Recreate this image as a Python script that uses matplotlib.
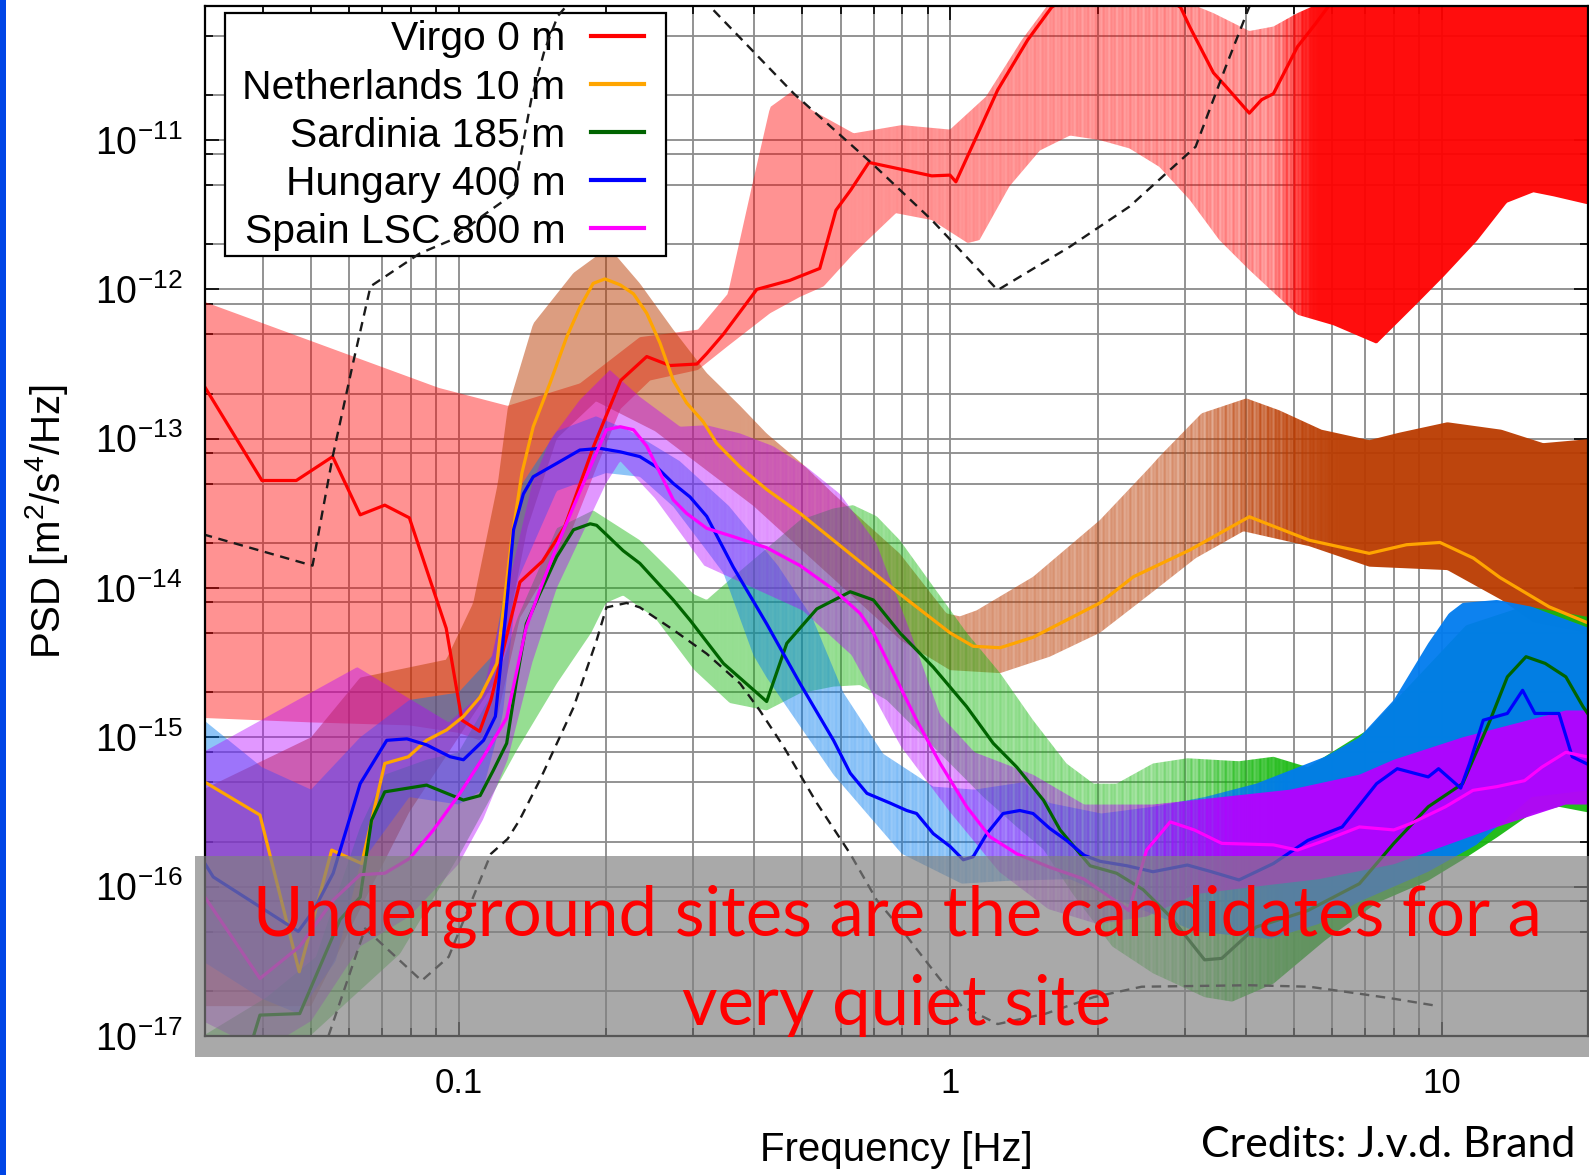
import numpy as np
import matplotlib
matplotlib.use("Agg")
import matplotlib.pyplot as plt
from matplotlib.path import Path
from matplotlib.image import BboxImage
from matplotlib.patches import Rectangle
from matplotlib import font_manager
from matplotlib.ticker import FixedLocator, FuncFormatter, NullFormatter

plt.rcParams['font.family'] = ['Liberation Sans', 'DejaVu Sans']
plt.rcParams['axes.unicode_minus'] = False
plt.rcParams['mathtext.fontset'] = 'custom'
plt.rcParams['mathtext.rm'] = 'Liberation Sans'
plt.rcParams['mathtext.it'] = 'Liberation Sans:italic'
plt.rcParams['mathtext.bf'] = 'Liberation Sans:bold'

# ---------------- data: (log10 frequency [Hz], log10 PSD [m^2/s^4/Hz]) ----------------
site_labels = ['Virgo 0 m', 'Netherlands 10 m', 'Sardinia 185 m', 'Hungary 400 m', 'Spain LSC 800 m']

virgo_median = [(-1.515,-12.66),(-1.40,-13.28),(-1.33,-13.28),(-1.256,-13.12),(-1.20,-13.51),(-1.15,-13.445),
    (-1.10,-13.53),(-1.025,-14.27),(-0.993,-14.885),(-0.957,-14.96),(-0.934,-14.75),(-0.875,-13.96),(-0.829,-13.82),
    (-0.784,-13.59),(-0.725,-13.05),(-0.670,-12.61),(-0.617,-12.45),(-0.570,-12.51),(-0.515,-12.50),(-0.495,-12.43),
    (-0.461,-12.30),(-0.393,-12.00),(-0.326,-11.94),(-0.265,-11.86),(-0.232,-11.47),(-0.202,-11.335),(-0.165,-11.15),
    (-0.122,-11.18),(-0.037,-11.24),(0.0,-11.235),(0.012,-11.28),(0.048,-11.02),(0.097,-10.665),(0.158,-10.33),
    (0.207,-10.11),(0.33,-9.85),(0.469,-10.11),(0.4875,-10.24),(0.536,-10.55),(0.561,-10.64),(0.609,-10.82),
    (0.634,-10.73),(0.658,-10.69),(0.707,-10.375),(0.744,-10.22),(0.780,-10.06),(1.0,-9.8),(1.31,-9.8)]
virgo_upper = [(-1.52,-12.08),(-1.04,-12.66),(-0.90,-12.78),(-0.753,-12.63),(-0.631,-12.32),(-0.513,-12.27),
    (-0.452,-12.03),(-0.403,-11.31),(-0.366,-10.78),(-0.324,-10.68),(-0.281,-10.80),(-0.196,-10.955),(-0.098,-10.90),
    (0.0,-10.93),(0.073,-10.71),(0.146,-10.33),(0.207,-10.06),(0.33,-9.8),(0.469,-10.06),(0.536,-10.15),(0.609,-10.27),
    (0.658,-10.24),(0.707,-10.15),(0.768,-10.06),(1.0,-9.8),(1.31,-9.8)]
virgo_lower = [(-1.52,-14.87),(-1.3,-14.9),(-1.1,-14.92),(-1.0,-14.97),(-0.957,-15.02),(-0.92,-14.85),(-0.875,-14.2),
    (-0.83,-13.95),(-0.78,-13.7),(-0.72,-13.2),(-0.67,-12.8),(-0.61,-12.61),(-0.513,-12.54),(-0.452,-12.38),
    (-0.366,-12.16),(-0.305,-12.05),(-0.257,-11.98),(-0.196,-11.76),(-0.110,-11.49),(-0.037,-11.536),(0.036,-11.69),
    (0.060,-11.67),(0.121,-11.31),(0.183,-11.07),(0.244,-10.97),(0.304,-11.0),(0.365,-11.056),(0.426,-11.18),
    (0.4875,-11.40),(0.548,-11.67),(0.609,-11.87),(0.707,-12.17),(0.780,-12.24),(0.868,-12.364),(0.95,-12.096),
    (1.004,-11.916),(1.072,-11.676),(1.133,-11.42),(1.187,-11.35),(1.228,-11.377),(1.31,-11.44)]

netherlands_median = [(-1.516,-15.30),(-1.404,-15.52),(-1.324,-16.57),(-1.258,-15.755),(-1.197,-15.845),
    (-1.15,-15.175),(-1.102,-15.13),(-1.065,-15.02),(-1.024,-14.95),(-0.99,-14.86),(-0.956,-14.73),(-0.922,-14.505),
    (-0.892,-13.68),(-0.871,-13.23),(-0.848,-12.92),(-0.814,-12.63),(-0.780,-12.32),(-0.753,-12.12),(-0.726,-11.96),
    (-0.702,-11.93),(-0.671,-11.97),(-0.644,-12.03),(-0.617,-12.16),(-0.590,-12.36),(-0.563,-12.61),(-0.536,-12.76),
    (-0.502,-12.887),(-0.475,-13.03),(-0.427,-13.19),(-0.373,-13.34),(-0.305,-13.50),(-0.2035,-13.77),(-0.102,-14.04),
    (0.0,-14.30),(0.047,-14.39),(0.102,-14.40),(0.169,-14.33),(0.237,-14.215),(0.305,-14.10),(0.373,-13.925),
    (0.4875,-13.746),(0.609,-13.523),(0.731,-13.68),(0.853,-13.768),(0.929,-13.71),(0.997,-13.695),(1.065,-13.80),
    (1.119,-13.93),(1.219,-14.126),(1.31,-14.25)]
netherlands_upper = [(-1.52,-15.35),(-1.3,-15.0),(-1.2,-14.6),(-1.025,-14.48),(-0.97,-14.1),(-0.92,-13.3),
    (-0.9,-12.8),(-0.848,-12.23),(-0.766,-11.89),(-0.712,-11.76),(-0.678,-11.78),(-0.631,-11.96),(-0.563,-12.27),
    (-0.495,-12.56),(-0.427,-12.78),(-0.373,-12.965),(-0.30,-13.17),(-0.237,-13.37),(-0.102,-13.77),(-0.007,-14.17),
    (0.020,-14.19),(0.054,-14.15),(0.169,-13.925),(0.305,-13.545),(0.407,-13.19),(0.426,-13.12),(0.512,-12.83),
    (0.603,-12.73),(0.670,-12.81),(0.756,-12.94),(0.853,-13.01),(0.914,-12.96),(1.012,-12.89),(1.122,-12.94),
    (1.207,-13.03),(1.31,-13.0)]
netherlands_lower = [(-1.52,-16.8),(-1.3,-16.8),(-1.1,-15.5),(-1.0,-15.0),(-0.92,-14.6),(-0.86,-13.6),(-0.8,-13.0),
    (-0.72,-12.75),(-0.6,-12.95),(-0.5,-13.2),(-0.4,-13.45),(-0.3,-13.75),(-0.2,-14.05),(-0.1,-14.35),(0.0,-14.55),
    (0.102,-14.57),(0.203,-14.46),(0.305,-14.30),(0.407,-14.04),(0.50,-13.8),(0.597,-13.62),(0.731,-13.72),
    (0.853,-13.857),(1.012,-13.88),(1.122,-14.08),(1.187,-14.23),(1.31,-14.31)]

sardinia_median = [(-1.52,-17.5),(-1.417,-17.0),(-1.404,-16.86),(-1.323,-16.85),(-1.241,-16.22),(-1.20,-16.07),
    (-1.177,-15.555),(-1.15,-15.365),(-1.065,-15.32),(-0.99,-15.42),(-0.956,-15.39),(-0.929,-15.22),(-0.902,-15.04),
    (-0.882,-14.62),(-0.862,-14.24),(-0.835,-14.04),(-0.80,-13.79),(-0.766,-13.61),(-0.732,-13.57),(-0.719,-13.58),
    (-0.665,-13.75),(-0.631,-13.835),(-0.563,-14.08),(-0.529,-14.215),(-0.461,-14.505),(-0.373,-14.76),(-0.332,-14.37),
    (-0.271,-14.14),(-0.203,-14.025),(-0.156,-14.08),(-0.102,-14.30),(-0.034,-14.53),(0.034,-14.795),(0.088,-15.04),
    (0.136,-15.20),(0.19,-15.42),(0.224,-15.62),(0.285,-15.86),(0.339,-15.91),(0.393,-16.02),(0.448,-16.20),
    (0.518,-16.49),(0.553,-16.48),(0.623,-16.27),(0.728,-16.16),(0.833,-15.98),(0.903,-15.71),(0.973,-15.465),
    (1.043,-15.31),(1.099,-14.885),(1.134,-14.595),(1.172,-14.46),(1.211,-14.505),(1.253,-14.595),(1.288,-14.795),
    (1.31,-14.9)]
sardinia_upper = [(-1.52,-17.0),(-1.39,-16.74),(-1.29,-16.47),(-1.2,-15.6),(-1.15,-15.25),(-1.065,-15.15),
    (-1.0,-15.1),(-0.93,-14.7),(-0.88,-14.2),(-0.8,-13.6),(-0.726,-13.48),(-0.631,-13.68),(-0.563,-13.90),
    (-0.522,-14.04),(-0.495,-14.08),(-0.441,-13.925),(-0.305,-13.545),(-0.237,-13.467),(-0.197,-13.445),
    (-0.149,-13.52),(-0.102,-13.68),(-0.034,-13.99),(0.034,-14.30),(0.102,-14.57),(0.169,-14.885),(0.237,-15.175),
    (0.292,-15.31),(0.339,-15.31),(0.413,-15.175),(0.483,-15.14),(0.588,-15.16),(0.658,-15.13),(0.728,-15.20),
    (0.85,-14.95),(0.95,-14.6),(1.05,-14.25),(1.17,-14.12),(1.31,-14.2)]
sardinia_lower = [(-1.52,-17.6),(-1.302,-17.0),(-1.119,-16.45),(-0.997,-15.78),(-0.882,-15.09),(-0.80,-14.64),
    (-0.73,-14.3),(-0.70,-14.1),(-0.665,-14.05),(-0.60,-14.2),(-0.52,-14.55),(-0.448,-14.77),(-0.373,-14.82),
    (-0.305,-14.705),(-0.237,-14.66),(-0.183,-14.65),(-0.129,-14.75),(-0.068,-14.95),(0.0,-15.175),(0.068,-15.40),
    (0.136,-15.60),(0.19,-15.75),(0.25,-16.05),(0.33,-16.4),(0.413,-16.58),(0.518,-16.74),(0.574,-16.77),
    (0.658,-16.65),(0.763,-16.36),(0.868,-16.11),(0.973,-15.96),(1.043,-15.82),(1.113,-15.67),(1.183,-15.51),
    (1.239,-15.465),(1.31,-15.51)]

hungary_median = [(-1.516,-15.845),(-1.499,-15.935),(-1.404,-16.135),(-1.326,-16.30),(-1.295,-16.16),
    (-1.255,-15.91),(-1.20,-15.31),(-1.146,-15.02),(-1.105,-15.01),(-1.065,-15.05),(-1.017,-15.13),(-0.99,-15.15),
    (-0.949,-15.02),(-0.925,-14.86),(-0.912,-14.44),(-0.905,-14.215),(-0.888,-13.61),(-0.868,-13.37),(-0.848,-13.255),
    (-0.80,-13.165),(-0.753,-13.076),(-0.712,-13.065),(-0.671,-13.088),(-0.631,-13.12),(-0.597,-13.19),(-0.563,-13.30),
    (-0.529,-13.39),(-0.495,-13.52),(-0.441,-13.86),(-0.373,-14.24),(-0.305,-14.64),(-0.237,-15.02),(-0.203,-15.24),
    (-0.169,-15.375),(-0.122,-15.44),(-0.088,-15.49),(-0.068,-15.51),(-0.034,-15.645),(0.0,-15.73),(0.027,-15.82),
    (0.047,-15.80),(0.075,-15.645),(0.108,-15.51),(0.142,-15.49),(0.169,-15.51),(0.203,-15.61),(0.237,-15.69),
    (0.273,-15.79),(0.305,-15.83),(0.36,-15.86),(0.413,-15.90),(0.483,-15.855),(0.532,-15.90),(0.588,-15.955),
    (0.658,-15.845),(0.728,-15.69),(0.798,-15.60),(0.868,-15.31),(0.910,-15.21),(0.973,-15.265),(0.994,-15.21),
    (1.039,-15.34),(1.057,-15.175),(1.085,-14.885),(1.134,-14.84),(1.165,-14.685),(1.19,-14.84),(1.239,-14.84),
    (1.266,-15.13),(1.31,-15.20)]
hungary_upper = [(-1.52,-14.88),(-1.40,-15.2),(-1.30,-15.35),(-1.20,-15.0),(-1.10,-14.75),(-1.00,-14.7),
    (-0.93,-14.45),(-0.90,-13.9),(-0.87,-13.3),(-0.80,-12.95),(-0.72,-12.85),(-0.65,-12.95),(-0.55,-13.15),
    (-0.45,-13.45),(-0.35,-13.85),(-0.28,-14.2),(-0.217,-14.7),(-0.136,-15.11),(-0.034,-15.33),(0.05,-15.35),
    (0.15,-15.3),(0.203,-15.44),(0.308,-15.51),(0.413,-15.465),(0.518,-15.40),(0.623,-15.31),(0.693,-15.22),
    (0.763,-15.13),(0.833,-15.0),(0.903,-14.75),(0.973,-14.37),(1.015,-14.17),(1.043,-14.10),(1.113,-14.08),
    (1.183,-14.125),(1.31,-14.28)]
hungary_lower = [(-1.52,-16.5),(-1.40,-16.75),(-1.326,-16.85),(-1.25,-16.5),(-1.20,-15.85),(-1.10,-15.4),
    (-1.0,-15.45),(-0.95,-15.35),(-0.91,-14.85),(-0.88,-13.95),(-0.80,-13.35),(-0.70,-13.23),(-0.631,-13.255),
    (-0.563,-13.455),(-0.495,-13.75),(-0.461,-13.90),(-0.40,-14.45),(-0.373,-14.6),(-0.30,-14.95),(-0.237,-15.25),
    (-0.169,-15.51),(-0.098,-15.78),(0.024,-15.98),(0.121,-15.96),(0.244,-15.95),(0.35,-16.1),(0.5,-16.3),
    (0.65,-16.35),(0.75,-16.25),(0.833,-16.1),(0.973,-15.9),(1.071,-15.72),(1.183,-15.40),(1.31,-15.35)]

spain_median = [(-1.516,-16.07),(-1.404,-16.615),(-1.323,-16.40),(-1.255,-16.09),(-1.20,-15.92),(-1.15,-15.91),
    (-1.099,-15.81),(-1.051,-15.62),(-0.997,-15.375),(-0.949,-15.13),(-0.902,-14.87),(-0.862,-14.26),(-0.834,-14.01),
    (-0.80,-13.72),(-0.766,-13.455),(-0.732,-13.19),(-0.699,-12.94),(-0.671,-12.92),(-0.644,-12.94),(-0.617,-13.05),
    (-0.590,-13.23),(-0.563,-13.41),(-0.536,-13.50),(-0.495,-13.60),(-0.441,-13.656),(-0.373,-13.73),(-0.305,-13.85),
    (-0.237,-14.01),(-0.183,-14.17),(-0.156,-14.30),(-0.115,-14.57),(-0.068,-14.885),(-0.020,-15.175),(0.034,-15.465),
    (0.081,-15.665),(0.136,-15.78),(0.203,-15.87),(0.273,-15.95),(0.343,-16.11),(0.364,-16.16),(0.40,-15.755),
    (0.448,-15.566),(0.497,-15.62),(0.553,-15.71),(0.658,-15.72),(0.707,-15.755),(0.763,-15.69),(0.833,-15.60),
    (0.903,-15.62),(0.938,-15.576),(1.008,-15.465),(1.064,-15.355),(1.113,-15.33),(1.169,-15.29),(1.204,-15.20),
    (1.253,-15.10),(1.31,-15.14)]
spain_upper = [(-1.52,-15.1),(-1.206,-14.53),(-1.02,-14.9),(-0.95,-14.7),(-0.90,-14.0),(-0.85,-13.3),
    (-0.814,-13.01),(-0.753,-12.74),(-0.692,-12.54),(-0.631,-12.72),(-0.549,-12.92),(-0.495,-12.91),(-0.427,-12.965),
    (-0.36,-13.05),(-0.292,-13.19),(-0.224,-13.37),(-0.15,-13.7),(-0.08,-14.3),(-0.02,-14.85),(0.05,-15.1),
    (0.169,-15.25),(0.273,-15.45),(0.413,-15.45),(0.553,-15.40),(0.693,-15.35),(0.833,-15.25),(0.903,-15.15),
    (1.043,-15.0),(1.253,-14.82),(1.31,-14.82)]
spain_lower = [(-1.52,-16.9),(-1.40,-17.1),(-1.30,-16.9),(-1.20,-16.4),(-1.10,-16.2),(-1.00,-15.85),(-0.95,-15.55),
    (-0.90,-15.15),(-0.85,-14.5),(-0.80,-14.0),(-0.75,-13.65),(-0.70,-13.3),(-0.671,-13.15),(-0.60,-13.4),
    (-0.50,-13.85),(-0.40,-14.0),(-0.30,-14.15),(-0.20,-14.45),(-0.10,-15.06),(0.0,-15.5),(0.1,-15.9),(0.2,-16.15),
    (0.3,-16.25),(0.4,-16.2),(0.5,-16.05),(0.62,-16.0),(0.75,-15.95),(0.903,-15.85),(1.113,-15.6),(1.253,-15.45),
    (1.31,-15.45)]

nhnm = [(-1.52,-13.64),(-1.297,-13.85),(-1.256,-13.12),(-1.215,-12.5),(-1.179,-11.98),(-1.079,-11.76),
    (-1.015,-11.67),(-0.952,-11.51),(-0.888,-11.36),(-0.852,-10.73),(-0.825,-10.40),(-0.798,-10.17),(-0.65,-9.6),
    (-0.488,-10.107),(-0.3175,-10.69),(-0.159,-11.156),(-0.037,-11.536),(0.097,-12.005),(0.2436,-11.715),
    (0.365,-11.446),(0.4997,-11.045),(0.561,-10.51),(0.609,-10.107),(0.8,-9.5)]
nlnm = [(-1.275,-17.1),(-1.19,-16.28),(-1.075,-16.63),(-1.02,-16.47),(-0.934,-15.78),(-0.90,-15.68),
    (-0.876,-15.555),(-0.835,-15.29),(-0.766,-14.80),(-0.719,-14.35),(-0.699,-14.13),(-0.658,-14.10),(-0.631,-14.13),
    (-0.563,-14.28),(-0.495,-14.44),(-0.427,-14.64),(-0.387,-14.82),(-0.339,-15.06),(-0.271,-15.44),(-0.203,-15.78),
    (-0.149,-16.09),(-0.098,-16.29),(-0.025,-16.60),(0.024,-16.80),(0.097,-16.92),(0.195,-16.85),(0.292,-16.74),
    (0.390,-16.67),(0.609,-16.66),(0.731,-16.67),(0.829,-16.715),(0.902,-16.75),(0.994,-16.80)]

x_ticks = [0.1, 1.0, 10.0]
x_tick_labels = ['0.1', '1', '10']
y_ticks = [1e-17, 1e-16, 1e-15, 1e-14, 1e-13, 1e-12, 1e-11]
y_tick_labels = [r'$\mathdefault{10^{-17}}$', r'$\mathdefault{10^{-16}}$', r'$\mathdefault{10^{-15}}$',
                 r'$\mathdefault{10^{-14}}$', r'$\mathdefault{10^{-13}}$', r'$\mathdefault{10^{-12}}$',
                 r'$\mathdefault{10^{-11}}$']

# ---------------- styling ----------------
W, H = 1589, 1175
XMIN, XMAX = 10 ** ((204.5 - 950) / 491.5), 10 ** ((1588 - 950) / 491.5)
YMIN, YMAX = 1e-17, 10 ** -10.1025

line_colors = ['#ff0000', '#ffa500', '#006400', '#0000ff', '#ff00ff']
band_rgb = [(1.0, 0.0, 0.0), (0.733, 0.235, 0.0), (0.08, 0.72, 0.05), (0.0, 0.486, 0.94), (0.714, 0.0, 1.0)]
band_alpha = [(0.43, 0.95, 0.64, 0.75), (0.50, 0.95, 0.45, 0.80), (0.45, 0.93, 0.40, 0.75),
              (0.45, 0.95, 0.30, 0.70), (0.41, 0.95, 0.30, 0.62)]

fig = plt.figure(figsize=(W / 100, H / 100), dpi=100)
ax = fig.add_axes([204.5 / W, 1 - 1036 / H, (1588 - 204.5) / W, 1030 / H])
ax.set_xscale('log')
ax.set_yscale('log')
ax.set_xlim(XMIN, XMAX)
ax.set_ylim(YMIN, YMAX)
ax.set_autoscale_on(False)

LF0, LF1 = np.log10(XMIN), np.log10(XMAX)


def draw_band(hi_pts, lo_pts, rgb, a_pale, a_full, l1, l2, z):
    hi = np.array(hi_pts, dtype=float)
    lo = np.array(lo_pts, dtype=float)
    g = np.linspace(max(hi[0, 0], lo[0, 0]), min(hi[-1, 0], lo[-1, 0]), 900)
    yh = np.interp(g, hi[:, 0], hi[:, 1])
    yl = np.interp(g, lo[:, 0], lo[:, 1])
    xs = np.concatenate([g, g[::-1], g[:1]])
    ys = np.concatenate([yh, yl[::-1], yh[:1]])
    path = Path(np.column_stack([10 ** xs, 10 ** ys]), closed=True)
    ncol = 1384
    lc = np.linspace(LF0, LF1, ncol)
    t = np.clip((lc - l1) / (l2 - l1), 0, 1)
    t = t * t * (3 - 2 * t)
    a = a_pale + (a_full - a_pale) * t
    # faint vertical striping, as produced by the densely overlapping fills of the original plot
    k = np.arange(ncol)
    stripe = np.cos(2 * np.pi * k / 5.3) * np.cos(2 * np.pi * k / 13.7)
    w = np.clip((lc - (l1 - 0.9)) / 0.9, 0, 1) * (1 - t) + 4 * t * (1 - t)
    a = np.clip(a + 0.10 * w * stripe, 0, 1)
    img = np.zeros((4, ncol, 4))
    img[..., 0], img[..., 1], img[..., 2] = rgb
    img[..., 3] = a
    im = BboxImage(ax.bbox, interpolation='nearest', zorder=z)
    im.set_data(img)
    im.set_clip_path(path, ax.transData)
    ax.add_artist(im)


bands = [(virgo_upper, virgo_lower), (netherlands_upper, netherlands_lower), (sardinia_upper, sardinia_lower),
         (hungary_upper, hungary_lower), (spain_upper, spain_lower)]
for i, (hi, lo) in enumerate(bands):
    a0, a1, l1, l2 = band_alpha[i]
    draw_band(hi, lo, band_rgb[i], a0, a1, l1, l2, 1.0 + 0.1 * i)

medians = [virgo_median, netherlands_median, sardinia_median, hungary_median, spain_median]
handles = []
for i, med in enumerate(medians):
    m = np.array(med)
    ln, = ax.plot(10 ** m[:, 0], 10 ** m[:, 1], color=line_colors[i], lw=2.3, zorder=3 + 0.1 * i,
                  label=site_labels[i], solid_joinstyle='round')
    handles.append(ln)

for model in (nhnm, nlnm):
    m = np.array(model)
    ax.plot(10 ** m[:, 0], 10 ** m[:, 1], color='#1a1a1a', lw=1.7, ls=(0, (4.0, 2.8)), zorder=6)

# grid and ticks
ax.set_axisbelow(True)
ax.xaxis.set_major_locator(FixedLocator(x_ticks))
ax.xaxis.set_minor_locator(FixedLocator([m * 10.0 ** e for e in (-2, -1, 0, 1) for m in range(2, 10)
                                         if XMIN <= m * 10.0 ** e <= XMAX]))
ax.xaxis.set_major_formatter(FuncFormatter(lambda v, p: x_tick_labels[p] if p is not None and p < 3 else ''))
ax.xaxis.set_minor_formatter(NullFormatter())
ax.yaxis.set_major_locator(FixedLocator(y_ticks))
ax.yaxis.set_minor_locator(FixedLocator([m * 10.0 ** e for e in range(-17, -10) for m in (2, 5, 8)
                                         if m * 10.0 ** e <= YMAX]))
ax.yaxis.set_major_formatter(FuncFormatter(lambda v, p: y_tick_labels[p] if p is not None and p < 7 else ''))
ax.yaxis.set_minor_formatter(NullFormatter())
ax.grid(True, which='both', color='#8e8e8e', lw=1.35)
ax.tick_params(which='both', direction='in', top=True, right=True, width=1.2, color='black')
ax.tick_params(which='major', length=10)
ax.tick_params(which='minor', length=6)
ax.tick_params(axis='x', labelsize=25, pad=22)
ax.tick_params(axis='y', labelsize=27, pad=16)
for s in ax.spines.values():
    s.set_linewidth(1.6)
    s.set_zorder(7)

ax.set_xlabel('Frequency [Hz]', fontsize=29)
ax.set_ylabel('PSD [m$^2$/s$^4$/Hz]', fontsize=29)
ax.xaxis.label.set_va('center')
ax.yaxis.label.set_va('center')
ax.xaxis.set_label_coords((896 - 204.5) / 1383.5, (1036 - 1150) / 1030)
ax.yaxis.set_label_coords((46 - 204.5) / 1383.5, (1036 - 522) / 1030)

# legend: white framed box with right-aligned labels and line samples on the right
ax.add_patch(Rectangle((225 / W, 1 - 256 / H), 441 / W, 243 / H, transform=fig.transFigure,
                       facecolor='white', edgecolor='black', lw=1.6, zorder=4.9, clip_on=False))
leg = ax.legend(handles=handles, labels=site_labels, loc='upper right',
                bbox_to_anchor=((644 - 204.5) / 1383.5, 1 - (20.5 - 6) / 1030), borderaxespad=0,
                markerfirst=False, fontsize=29.4, frameon=False,
                handlelength=1.3, handletextpad=0.62, labelspacing=0.245, borderpad=0.0)
leg.set_zorder(5)
for l in leg.get_lines():
    l.set_linewidth(3.0)

# overlay box and annotation
fig.add_artist(Rectangle((195 / W, 1 - 1057 / H), 1 - 195 / W, (1057 - 856) / H, transform=fig.transFigure,
                         facecolor=(0.5, 0.5, 0.5), alpha=0.68, edgecolor='none', zorder=10))
fig.add_artist(Rectangle((0, 0), 6 / W, 1, transform=fig.transFigure, facecolor=(0.0, 0.27, 0.9),
                         edgecolor='none', zorder=10))

names = {f.name for f in font_manager.fontManager.ttflist}
human = next((n for n in ['Lato', 'Open Sans', 'Noto Sans'] if n in names), 'DejaVu Sans')

t1 = fig.text(897 / W, 1 - 935 / H, 'Underground sites are the candidates for a', color='red',
              family=human, fontsize=50, ha='center', va='baseline', zorder=11)
t2 = fig.text(897 / W, 1 - 1025 / H, 'very quiet site', color='red',
              family=human, fontsize=50, ha='center', va='baseline', zorder=11)
t3 = fig.text(1575 / W, 1 - 1157 / H, 'Credits: J.v.d. Brand', color='black',
              family=human, fontsize=30, ha='right', va='baseline', zorder=11)

r = fig.canvas.get_renderer()
w1 = t1.get_window_extent(renderer=r).width
fs = 50 * 1289 / w1
t1.set_fontsize(fs)
t2.set_fontsize(fs)
w3 = t3.get_window_extent(renderer=r).width
t3.set_fontsize(30 * 375 / w3)

fig.savefig('out.png', dpi=100)
